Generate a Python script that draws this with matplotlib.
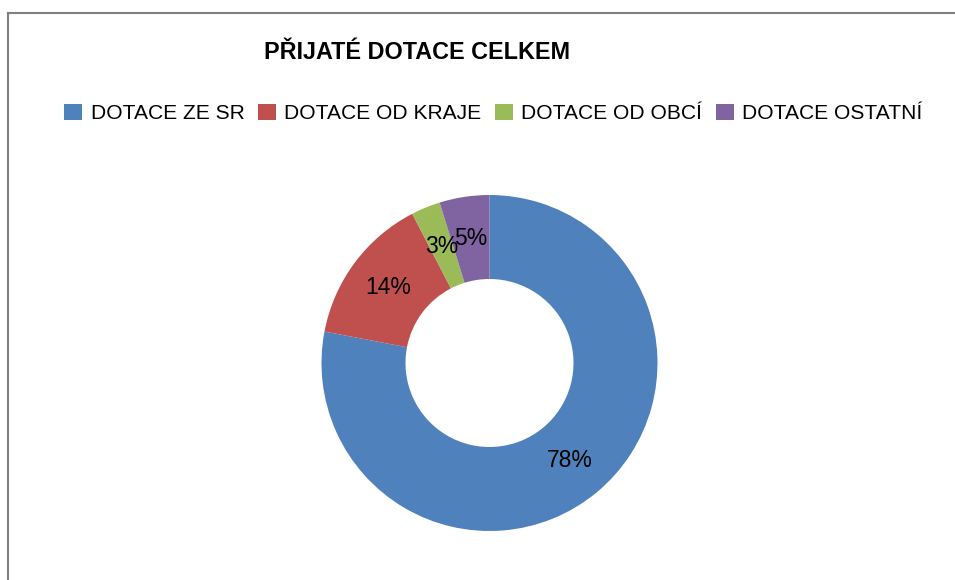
import matplotlib
matplotlib.use('Agg')
import matplotlib.pyplot as plt
from matplotlib.patches import Patch
from matplotlib.lines import Line2D

plt.rcParams['font.family'] = ['Liberation Sans', 'DejaVu Sans']

title = 'PŘIJATÉ DOTACE CELKEM'
labels = ['DOTACE ZE SR', 'DOTACE OD KRAJE', 'DOTACE OD OBCÍ', 'DOTACE OSTATNÍ']
shares = [78.0, 14.4, 2.8, 4.8]
colors = ['#4F81BD', '#C0504D', '#9BBB59', '#8064A2']

W, H = 955, 580
fig = plt.figure(figsize=(W/100, H/100), dpi=100)

# frame of the chart area (only left and top edge visible)
fig.add_artist(Line2D([7.7/W, 7.7/W], [0, 1-12.7/H], color='#808080', lw=1.5))
fig.add_artist(Line2D([7.7/W, 1], [1-12.7/H, 1-12.7/H], color='#808080', lw=1.5))

# donut
cx, cy, r = 489.5, 363, 168
ax = fig.add_axes([(cx-r)/W, (H-cy-r)/H, 2*r/W, 2*r/H])
wedges, texts, autotexts = ax.pie(shares, colors=colors, startangle=90, counterclock=False,
                                  autopct='%.0f%%', pctdistance=0.75,
                                  wedgeprops=dict(width=0.5, linewidth=0),
                                  textprops=dict(fontsize=16.5, color='black'))
ax.set_xlim(-1, 1)
ax.set_ylim(-1, 1)
ax.set_aspect('equal')

fig.text(417.5/W, 1-59/H, title, ha='center', va='baseline',
         fontsize=16.8, fontweight='bold', color='black')

handles = [Patch(facecolor=c, edgecolor='none') for c in colors]
fig.legend(handles, labels, loc='center', bbox_to_anchor=(493.5/W, 1-113.5/H),
           ncol=4, frameon=False, fontsize=15.1, borderpad=0,
           handlelength=0.85, handleheight=0.85, handletextpad=0.4, columnspacing=0.65)

fig.savefig('out.png', dpi=100)
